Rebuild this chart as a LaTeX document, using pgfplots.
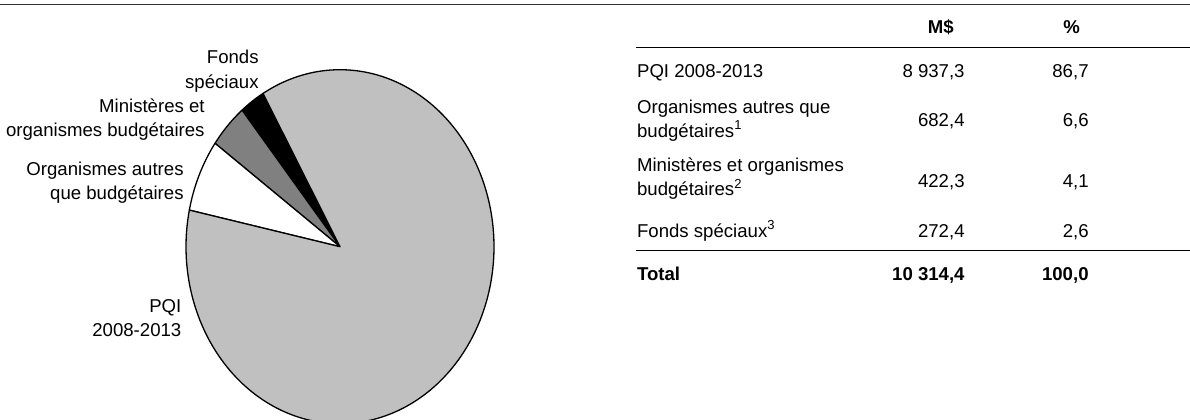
\documentclass[border=0pt]{standalone}
\usepackage{pgfplots}
\pgfplotsset{compat=1.18}
\usepackage{pgfplotstable}
\usepackage{fontspec}
\setmainfont{Liberation Sans}
\definecolor{pqigray}{RGB}{192,192,192}
\definecolor{midgray}{RGB}{128,128,128}
\definecolor{topline}{RGB}{50,50,50}

\pgfplotstableread{
label value
Fonds 272.4
Ministeres 422.3
Organismes 682.4
PQI 8937.3
}\piedata

\begin{document}%
\begin{tikzpicture}[every node/.style={font=\fontsize{9.3}{12}\selectfont, inner sep=0pt}]
\pgfplotstablegetelem{0}{value}\of\piedata \let\va\pgfplotsretval
\pgfplotstablegetelem{1}{value}\of\piedata \let\vb\pgfplotsretval
\pgfplotstablegetelem{2}{value}\of\piedata \let\vc\pgfplotsretval
\pgfplotstablegetelem{3}{value}\of\piedata \let\vd\pgfplotsretval
\pgfmathsetmacro\tot{(\va+\vb+\vc+\vd)/100}
\pgfmathsetmacro\aA{120}
\pgfmathsetmacro\aB{\aA+3.6*(\va/\tot)}
\pgfmathsetmacro\aC{\aB+3.6*(\vb/\tot)}
\pgfmathsetmacro\aD{\aC+3.6*(\vc/\tot)}
\pgfmathsetmacro\aE{\aD+3.6*(\vd/\tot)}
\begin{axis}[
  at={(0,0)}, anchor=origin,
  width=595pt, height=209.5pt, scale only axis,
  xmin=0, xmax=1190, ymin=0, ymax=419,
  axis lines=none, ticks=none, clip=false,
]
% pie (center 340,172.3; radii 154 x 177)
\addplot[fill=black, draw=black, line width=0.65pt, line join=round, domain=\aA:\aB, samples=20, variable=\t]
  ({340+154*cos(\t)},{172.3+177*sin(\t)}) -- (340,172.3) -- cycle;
\addplot[fill=midgray, draw=black, line width=0.65pt, line join=round, domain=\aB:\aC, samples=20, variable=\t]
  ({340+154*cos(\t)},{172.3+177*sin(\t)}) -- (340,172.3) -- cycle;
\addplot[fill=white, draw=black, line width=0.65pt, line join=round, domain=\aC:\aD, samples=30, variable=\t]
  ({340+154*cos(\t)},{172.3+177*sin(\t)}) -- (340,172.3) -- cycle;
\addplot[fill=pqigray, draw=black, line width=0.65pt, line join=round, domain=\aD:\aE, samples=200, variable=\t]
  ({340+154*cos(\t)},{172.3+177*sin(\t)}) -- (340,172.3) -- cycle;

% pie labels
\node[anchor=base east] at (259,355.5) {Fonds};
\node[anchor=base east] at (259,331) {spéciaux};
\node[anchor=base east] at (205,307) {Ministères et};
\node[anchor=base east] at (205,282.5) {organismes budgétaires};
\node[anchor=base east] at (184,244) {Organismes autres};
\node[anchor=base east] at (184,219.5) {que budgétaires};
\node[anchor=base east] at (181.7,107) {PQI};
\node[anchor=base east] at (181.7,82.5) {2008-2013};

% table lines
\draw[topline, line width=0.55pt] (0,414.7) -- (1190,414.7);
\draw[black, line width=0.55pt] (635.7,371.7) -- (1190,371.7);
\draw[black, line width=0.55pt] (635.7,168.5) -- (1190,168.5);

% header
\node[anchor=base, font=\fontsize{9.3}{12}\selectfont\bfseries] at (940.7,385.3) {M\$};
\node[anchor=base, font=\fontsize{9.3}{12}\selectfont\bfseries] at (1071.7,385.3) {\%};

% rows
\node[anchor=base west] at (636.7,342) {PQI 2008-2013};
\node[anchor=base east] at (965,342) {8 937,3};
\node[anchor=base east] at (1089,342) {86,7};

\node[anchor=base west] at (636.7,306) {Organismes autres que};
\node[anchor=base west] at (636.7,281.5) {budgétaires\textsuperscript{1}};
\node[anchor=base east] at (965,293) {682,4};
\node[anchor=base east] at (1089,293) {6,6};

\node[anchor=base west] at (636.7,247.7) {Ministères et organismes};
\node[anchor=base west] at (636.7,223.2) {budgétaires\textsuperscript{2}};
\node[anchor=base east] at (965,232) {422,3};
\node[anchor=base east] at (1089,232) {4,1};

\node[anchor=base west] at (636.7,182) {Fonds spéciaux\textsuperscript{3}};
\node[anchor=base east] at (965,182) {272,4};
\node[anchor=base east] at (1089,182) {2,6};

\node[anchor=base west, font=\fontsize{9.3}{12}\selectfont\bfseries] at (636.7,138.7) {Total};
\node[anchor=base east, font=\fontsize{9.3}{12}\selectfont\bfseries] at (965,138.7) {10 314,4};
\node[anchor=base east, font=\fontsize{9.3}{12}\selectfont\bfseries] at (1089,138.7) {100,0};

\coordinate (SW) at (0,0);
\coordinate (NE) at (1190,419);
\end{axis}
\pgfresetboundingbox
\path[use as bounding box] (SW) rectangle (NE);
\end{tikzpicture}%
\end{document}
